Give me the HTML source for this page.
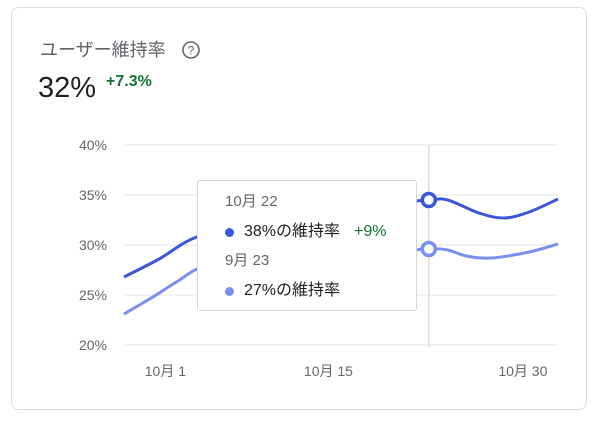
<!DOCTYPE html>
<html><head><meta charset="utf-8"><style>
body{margin:0;width:602px;height:425px;background:#fff;font-family:"Liberation Sans","Noto Sans CJK JP",sans-serif;overflow:hidden;position:relative}
.card{position:absolute;left:11px;top:7px;width:576px;height:403px;border:1px solid #dcdcdc;border-radius:8px;box-sizing:border-box}
.t{position:absolute;white-space:nowrap;line-height:20px}
</style></head><body>
<div class="card"></div>
<div class="t" style="left:40px;top:40px;font-size:18px;color:#5f6368">ユーザー維持率</div>
<svg style="position:absolute;left:181px;top:40px" width="20" height="20" viewBox="0 0 20 20"><circle cx="10" cy="10" r="8" fill="none" stroke="#666" stroke-width="1.6"/><text x="10" y="14.5" text-anchor="middle" font-size="12" fill="#666" font-family="Liberation Sans">?</text></svg>
<div class="t" style="left:38px;top:78px;font-size:29px;color:#202124">32%</div>
<div class="t" style="left:106px;top:72px;font-size:16px;color:#137333;font-weight:bold">+7.3%</div>
<svg id="chart" style="position:absolute;left:0;top:0" width="602" height="425"></svg>
<div style="position:absolute;left:197px;top:180px;width:220px;height:131px;background:#fff;border:1px solid #d6d6d6;border-radius:3px;box-sizing:border-box">
<div class="t" style="left:27px;top:11px;font-size:15px;color:#666">10月 22</div>
<div style="position:absolute;left:27px;top:47px;width:9px;height:9px;border-radius:50%;background:#3c56d9"></div>
<div class="t" style="left:46px;top:41px;font-size:16px;color:#202124">38%の維持率</div>
<div class="t" style="left:156px;top:41px;font-size:16px;color:#137333">+9%</div>
<div class="t" style="left:27px;top:70px;font-size:15px;color:#666">9月 23</div>
<div style="position:absolute;left:27px;top:106px;width:9px;height:9px;border-radius:50%;background:#7b8ff0"></div>
<div class="t" style="left:46px;top:100px;font-size:16px;color:#202124">27%の維持率</div>
</div>
<svg id="markers" style="position:absolute;left:0;top:0" width="602" height="425"></svg>
<script>
const yTicks=[20,25,30,35,40];
const yTickLabels=["20%","25%","30%","35%","40%"];
const xTicks=[1,14,29.5];
const xTickLabels=["10月 1","10月 15","10月 30"];
const days=[-2.3,0.5,3.5,8,14,18,22,23.5,26,28,30,32.3];
const currentSeries=[26.8,28.6,30.8,32,33,34,34.5,34.5,33.2,32.7,33.3,34.6];
const prevDays=[-2.3,0,2,4,8,14,18,22,23.5,25,27,30,32.3];
const previousSeries=[23.1,24.8,26.4,27.8,28.5,29,29.3,29.6,29.5,28.9,28.7,29.3,30.1];
const hoverDay=22;
const NS="http://www.w3.org/2000/svg";
const svg=document.getElementById('chart');
const msvg=document.getElementById('markers');
const xS=d=>124+(d+2.3)*(434/34.6);
const yS=v=>345-(v-20)*10;
function mk(t,a,p){const e=document.createElementNS(NS,t);for(const k in a)e.setAttribute(k,a[k]);(p||svg).appendChild(e);return e;}
yTicks.forEach((v,i)=>{
 const l=mk('line',{x1:124,x2:558,y1:yS(v),y2:yS(v),stroke:'#e6e6e6','stroke-width':1});
 
 
 const t=mk('text',{x:107,y:yS(v)+5,'text-anchor':'end','font-size':14,fill:'#666'});
 t.textContent=yTickLabels[i];
 
 
});
xTicks.forEach((d,i)=>{
 const t=mk('text',{x:xS(d),y:376,'text-anchor':'middle','font-size':14,fill:'#666'});
 t.textContent=xTickLabels[i];
 
 
});
const hl=mk('line',{x1:xS(hoverDay),x2:xS(hoverDay),y1:145,y2:347,stroke:'#dcdcdc','stroke-width':1.5});


function path(xs,ys){
 const p=xs.map((d,i)=>[xS(d),yS(ys[i])]);
 let s='M'+p[0][0]+','+p[0][1];
 for(let i=0;i<p.length-1;i++){
  const p0=p[i-1]||p[i],p1=p[i],p2=p[i+1],p3=p[i+2]||p2;
  const c1=[p1[0]+(p2[0]-p0[0])/6,p1[1]+(p2[1]-p0[1])/6];
  const c2=[p2[0]-(p3[0]-p1[0])/6,p2[1]-(p3[1]-p1[1])/6];
  s+=` C${c1[0]},${c1[1]} ${c2[0]},${c2[1]} ${p2[0]},${p2[1]}`;
 }
 return s;
}
const lp=mk('path',{d:path(prevDays,previousSeries),fill:'none',stroke:'#7b8ff0','stroke-width':3});


const lc=mk('path',{d:path(days,currentSeries),fill:'none',stroke:'#3c56d9','stroke-width':3});


const hi=days.indexOf(hoverDay), hp=prevDays.indexOf(hoverDay);
const m2=mk('circle',{cx:xS(hoverDay),cy:yS(previousSeries[hp]),r:6.5,fill:'#fff',stroke:'#7b8ff0','stroke-width':3.5},msvg);


const m1=mk('circle',{cx:xS(hoverDay),cy:yS(currentSeries[hi]),r:6.5,fill:'#fff',stroke:'#3c56d9','stroke-width':3.5},msvg);


</script>
</body></html>
